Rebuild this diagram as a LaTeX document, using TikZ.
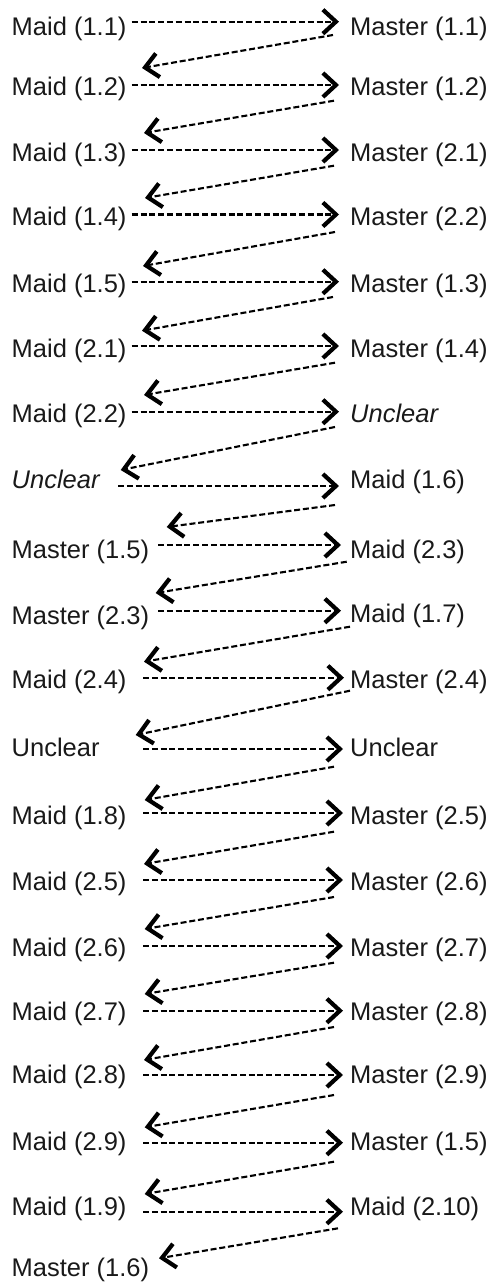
\documentclass[tikz,border=0pt]{standalone}
\usepackage{fontspec}
\setmainfont{Liberation Sans}
\usetikzlibrary{arrows.meta}
\tikzset{
  lbl/.style={anchor=base west, inner sep=0pt, text=black!90, font=\fontsize{25.5}{30}\selectfont},
  flow/.style={draw=black, line width=2.1pt, dash pattern=on 6pt off 2.8pt,
    -{Straight Barb[length=13pt,width=24pt,line width=4.2pt]}}
}
\begin{document}
\begin{tikzpicture}[x=1pt,y=-1pt]
\useasboundingbox (0,0) rectangle (494,1285);
% left column
\node[lbl] (L1)  at (11.5,35)   {Maid (1.1)};
\node[lbl] (L2)  at (11.5,95)   {Maid (1.2)};
\node[lbl] (L3)  at (11.5,161)  {Maid (1.3)};
\node[lbl] (L4)  at (11.5,225)  {Maid (1.4)};
\node[lbl] (L5)  at (11.5,292)  {Maid (1.5)};
\node[lbl] (L6)  at (11.5,357)  {Maid (2.1)};
\node[lbl] (L7)  at (11.5,422)  {Maid (2.2)};
\node[lbl] (L8)  at (11.5,488)  {\itshape Unclear};
\node[lbl] (L9)  at (11.5,558)  {Master (1.5)};
\node[lbl] (L10) at (11.5,624)  {Master (2.3)};
\node[lbl] (L11) at (11.5,688)  {Maid (2.4)};
\node[lbl] (L12) at (11.5,756)  {Unclear};
\node[lbl] (L13) at (11.5,824)  {Maid (1.8)};
\node[lbl] (L14) at (11.5,890)  {Maid (2.5)};
\node[lbl] (L15) at (11.5,956)  {Maid (2.6)};
\node[lbl] (L16) at (11.5,1020) {Maid (2.7)};
\node[lbl] (L17) at (11.5,1083) {Maid (2.8)};
\node[lbl] (L18) at (11.5,1150) {Maid (2.9)};
\node[lbl] (L19) at (11.5,1215) {Maid (1.9)};
\node[lbl] (L20) at (11.5,1276) {Master (1.6)};
% right column
\node[lbl] (R1)  at (350,35)   {Master (1.1)};
\node[lbl] (R2)  at (350,95)   {Master (1.2)};
\node[lbl] (R3)  at (350,161)  {Master (2.1)};
\node[lbl] (R4)  at (350,225)  {Master (2.2)};
\node[lbl] (R5)  at (350,292)  {Master (1.3)};
\node[lbl] (R6)  at (350,357)  {Master (1.4)};
\node[lbl] (R7)  at (350,422)  {\itshape Unclear};
\node[lbl] (R8)  at (350,488)  {Maid (1.6)};
\node[lbl] (R9)  at (350,558)  {Maid (2.3)};
\node[lbl] (R10) at (350,622)  {Maid (1.7)};
\node[lbl] (R11) at (350,688)  {Master (2.4)};
\node[lbl] (R12) at (350,756)  {Unclear};
\node[lbl] (R13) at (350,824)  {Master (2.5)};
\node[lbl] (R14) at (350,890)  {Master (2.6)};
\node[lbl] (R15) at (350,956)  {Master (2.7)};
\node[lbl] (R16) at (350,1020) {Master (2.8)};
\node[lbl] (R17) at (350,1083) {Master (2.9)};
\node[lbl] (R18) at (350,1150) {Master (1.5)};
\node[lbl] (R19) at (350,1215) {Maid (2.10)};
% horizontal connector ends (from left label to right label)
\foreach \i/\y/\xs/\xe in {1/21.7/131.7/339, 2/85/131.7/339, 3/150/131.7/339,
  4/214.5/131.7/339, 5/281.7/131.7/339, 6/346/131.7/339, 7/411.7/131.7/339,
  8/486/118/339, 9/545/158/341, 10/610.7/158/341, 11/677.7/143/344,
  12/749/143/343, 13/813/143/343, 14/880/143/343, 15/946/143/343,
  16/1010.7/143/343, 17/1075/143/343, 18/1142.7/143/343, 19/1211.7/143/343}{
  \coordinate (hs\i) at (\xs,\y);
  \coordinate (he\i) at (\xe,\y);
  \draw[flow] (hs\i) -- (he\i);
}
% diagonal connector ends (from right label back to next left label)
\foreach \i/\xs/\ys/\xe/\ye in {1/333/35/142/68, 2/334/100.7/144/133,
  3/334/165.7/145/198, 4/335/232/143/266, 5/333/297/142/330.7,
  6/335/362.7/144/395, 7/335/427/120.7/470, 8/335/505/166.7/527,
  9/346.7/561.7/155.7/593, 10/350/626.7/144/661.7, 11/350/690.7/135.7/735,
  12/334/766.7/144.7/800, 13/334/831.7/144/864, 14/334/897/144.7/929,
  15/334/962.7/144.7/994, 16/334/1027/144/1060, 17/334/1095/144.7/1127.3,
  18/334/1161.7/144.7/1194, 19/338/1228.3/159/1258.3}{
  \coordinate (ds\i) at (\xs,\ys);
  \coordinate (de\i) at (\xe,\ye);
  \draw[flow] (ds\i) -- (de\i);
}
\end{tikzpicture}
\end{document}
